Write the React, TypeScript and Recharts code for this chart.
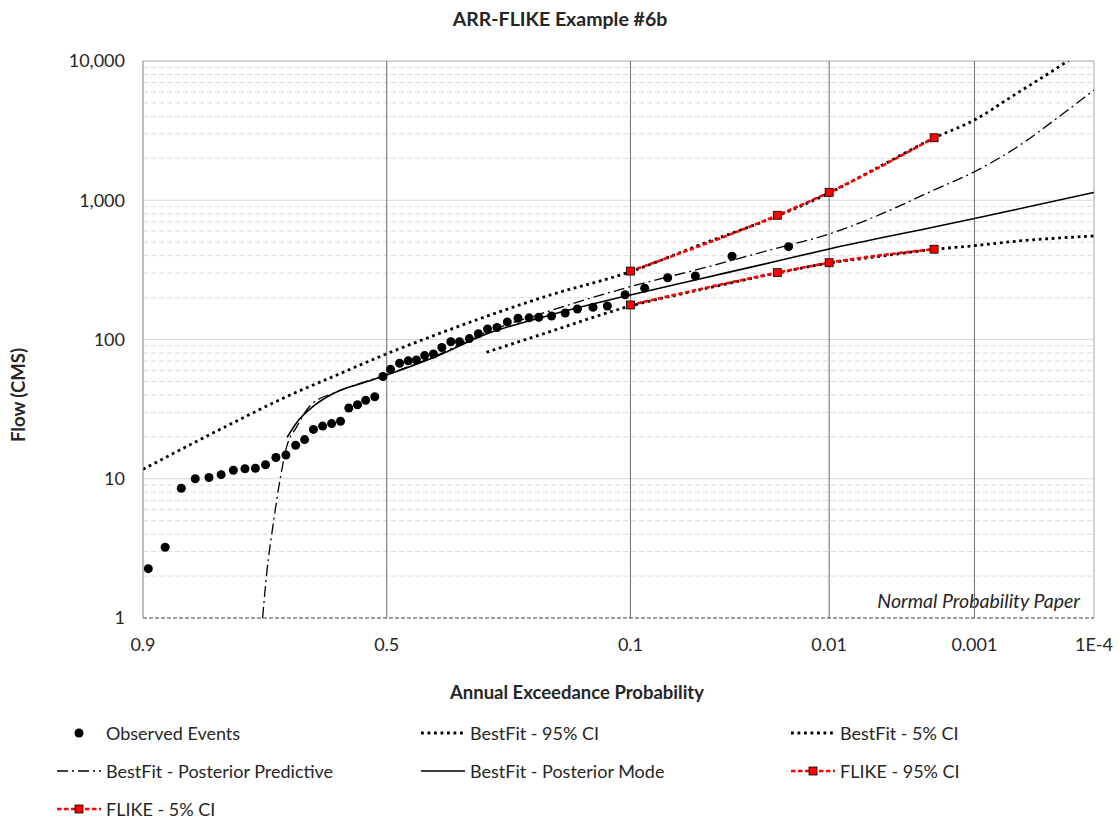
import {
  ComposedChart,
  Customized,
  Legend,
  Line,
  ReferenceLine,
  Scatter,
  XAxis,
  YAxis,
} from "recharts";

// Observed annual maxima: plotting-position AEP and peak flow (CMS)
const observedAep = [
  0.895, 0.878, 0.86, 0.843, 0.825, 0.808, 0.79, 0.772, 0.755, 0.738, 0.72, 0.702, 0.684,
  0.667, 0.65, 0.632, 0.614, 0.596, 0.579, 0.561, 0.544, 0.525, 0.508, 0.492, 0.473, 0.455,
  0.438, 0.421, 0.403, 0.386, 0.368, 0.351, 0.332, 0.315, 0.298, 0.281, 0.263, 0.245, 0.227,
  0.212, 0.193, 0.174, 0.158, 0.139, 0.123, 0.105, 0.0875, 0.0698, 0.0523, 0.0347, 0.0173,
];
const observedFlow = [
  2.26, 3.22, 8.54, 10.0, 10.2, 10.7, 11.5, 11.8, 11.9, 12.6, 14.2, 14.8, 17.4, 19.1, 22.6,
  23.9, 24.9, 25.9, 32.2, 34.0, 36.6, 38.8, 54.2, 61.1, 67.5, 70.3, 71.2, 76.6, 78.7, 87.6,
  96.3, 96.4, 101.5, 109.9, 119, 122, 133.6, 142, 143, 144.6, 147.5, 155, 165.6, 170.3, 174,
  209.4, 233.6, 277.8, 285.8, 395.8, 464,
];

// BestFit confidence limits
const bestFit95Aep = [
  0.9, 0.8, 0.7, 0.6, 0.5, 0.4, 0.3, 0.2, 0.1, 0.05, 0.02, 0.01, 0.005, 0.002, 0.001, 0.0005,
  0.0002, 0.0001,
];
const bestFit95Flow = [
  11.7, 23.9, 39, 56.3, 79, 107.5, 146.7, 205, 307, 477, 771, 1127, 1700, 2800, 3770, 5600, 9200,
  13500,
];
const bestFit5Aep = [0.3, 0.2, 0.1, 0.05, 0.02, 0.01, 0.005, 0.002, 0.001, 0.0005, 0.0002, 0.0001];
const bestFit5Flow = [81, 112, 174, 227, 300, 354, 393, 444, 472, 505, 536, 554];

// BestFit posterior predictive and posterior mode quantiles
const predictiveAep = [
  0.743, 0.736, 0.7245, 0.7127, 0.7006, 0.682, 0.657, 0.6, 0.5, 0.4, 0.3, 0.2, 0.1, 0.05, 0.02,
  0.01, 0.005, 0.002, 0.001, 0.0005, 0.0002, 0.0001,
];
const predictiveFlow = [
  1.0, 2.09, 4.79, 9.8, 17.0, 23.6, 33.3, 42.5, 56, 76, 113, 158, 240, 321, 454, 572, 771, 1185,
  1603, 2296, 4030, 6190,
];
const modeAep = [
  0.7, 0.68, 0.65, 0.6, 0.55, 0.5, 0.4, 0.3, 0.2, 0.1, 0.05, 0.02, 0.01, 0.002, 0.001, 0.0005,
  0.0001,
];
const modeFlow = [
  19.8, 25.9, 33.2, 42.7, 48.7, 55.6, 74.9, 109.5, 147.5, 209, 272, 366, 447, 643, 740, 847, 1137,
];

// FLIKE confidence limits
const flikeAep = [0.1, 0.02, 0.01, 0.002];
const flike95Flow = [310, 780, 1140, 2810];
const flike5Flow = [177, 302, 356, 445];

// Axis ticks
const aepTicks = [0.9, 0.5, 0.1, 0.01, 0.001, 0.0001];
const aepTickLabels = ["0.9", "0.5", "0.1", "0.01", "0.001", "1E-4"];
const aepGridLines = [0.5, 0.1, 0.01, 0.001];
const flowTicks = [1, 10, 100, 1000, 10000];

const FONT = "Lato, 'Open Sans', sans-serif";

// Inverse standard normal CDF (Acklam)
function normInv(p: number): number {
  const a = [-39.69683028665376, 220.9460984245205, -275.9285104469687, 138.357751867269, -30.66479806614716, 2.506628277459239];
  const b = [-54.47609879822406, 161.5858368580409, -155.6989798598866, 66.80131188771972, -13.28068155288572];
  const c = [-0.007784894002430293, -0.3223964580411365, -2.400758277161838, -2.549671010322563, 4.374664141464968, 2.938163982698783];
  const d = [0.007784695709041462, 0.3224671290700398, 2.445134137142996, 3.754408661907416];
  const pLow = 0.02425;
  if (p < pLow) {
    const q = Math.sqrt(-2 * Math.log(p));
    return (((((c[0] * q + c[1]) * q + c[2]) * q + c[3]) * q + c[4]) * q + c[5]) /
      ((((d[0] * q + d[1]) * q + d[2]) * q + d[3]) * q + 1);
  }
  if (p > 1 - pLow) {
    const q = Math.sqrt(-2 * Math.log(1 - p));
    return -(((((c[0] * q + c[1]) * q + c[2]) * q + c[3]) * q + c[4]) * q + c[5]) /
      ((((d[0] * q + d[1]) * q + d[2]) * q + d[3]) * q + 1);
  }
  const q = p - 0.5;
  const r = q * q;
  return ((((((a[0] * r + a[1]) * r + a[2]) * r + a[3]) * r + a[4]) * r + a[5]) * q) /
    (((((b[0] * r + b[1]) * r + b[2]) * r + b[3]) * r + b[4]) * r + 1);
}

// normal probability paper: x position is the standard normal variate of (1 - AEP)
const aepToZ = (aep: number) => normInv(1 - aep);

const toRows = (aep: number[], flow: number[]) =>
  aep.map((p, i) => ({ z: aepToZ(p), flow: flow[i] }));

const observedRows = toRows(observedAep, observedFlow);
const bestFit95Rows = toRows(bestFit95Aep, bestFit95Flow);
const bestFit5Rows = toRows(bestFit5Aep, bestFit5Flow);
const predictiveRows = toRows(predictiveAep, predictiveFlow);
const modeRows = toRows(modeAep, modeFlow);
const flike95Rows = toRows(flikeAep, flike95Flow);
const flike5Rows = toRows(flikeAep, flike5Flow);

const zMin = aepToZ(0.9);
const zMax = aepToZ(0.0001);

const minorFlows: number[] = [];
for (let k = 0; k < 4; k++) {
  for (let m = 2; m <= 9; m++) minorFlows.push(m * 10 ** k);
}

const DOTTED = { stroke: "#000", strokeWidth: 2.8, strokeDasharray: "2.8 3.7" };
const DASH_DOT = { stroke: "#000", strokeWidth: 1.3, strokeDasharray: "11 4 2 4" };
const SOLID = { stroke: "#000", strokeWidth: 1.6 };
const RED_DASH = { stroke: "#ff0000", strokeWidth: 2.6, strokeDasharray: "4.5 2.5" };

type LegendKind = "dot" | "dotted" | "dashdot" | "solid" | "flike";

const legendItems: { name: string; kind: LegendKind }[] = [
  { name: "Observed Events", kind: "dot" },
  { name: "BestFit - 95% CI", kind: "dotted" },
  { name: "BestFit - 5% CI", kind: "dotted" },
  { name: "BestFit - Posterior Predictive", kind: "dashdot" },
  { name: "BestFit - Posterior Mode", kind: "solid" },
  { name: "FLIKE - 95% CI", kind: "flike" },
  { name: "FLIKE - 5% CI", kind: "flike" },
];
const legendColumns = [57, 421, 791];
const legendRowsY = [25, 63, 101];

function LegendSymbol({ kind }: { kind: LegendKind }) {
  const lineStyle =
    kind === "dotted" ? DOTTED : kind === "dashdot" ? DASH_DOT : kind === "solid" ? SOLID : RED_DASH;
  return (
    <svg width={44} height={14} style={{ display: "block" }}>
      {kind === "dot" ? (
        <circle cx={22} cy={7} r={4.5} fill="#000" />
      ) : (
        <line x1={0} y1={7} x2={44} y2={7} {...lineStyle} />
      )}
      {kind === "flike" && (
        <rect x={18} y={3} width={8} height={8} fill="#ff0000" stroke="#000" strokeWidth={0.8} />
      )}
    </svg>
  );
}

function ChartLegend() {
  return (
    <div style={{ position: "relative", width: 1119, height: 115, fontFamily: FONT }}>
      {legendItems.map((item, i) => (
        <div
          key={item.name}
          style={{
            position: "absolute",
            left: legendColumns[i % 3],
            top: legendRowsY[Math.floor(i / 3)] - 11,
            height: 22,
            display: "flex",
            alignItems: "center",
            fontSize: 18,
            color: "#262626",
            whiteSpace: "nowrap",
          }}
        >
          <LegendSymbol kind={item.kind} />
          <span style={{ marginLeft: 5 }}>{item.name}</span>
        </div>
      ))}
    </div>
  );
}

function ChartText() {
  return (
    <g fontFamily={FONT} fill="#262626">
      <text x={560} y={18} textAnchor="middle" dominantBaseline="central" fontSize={19.5} fontWeight={700}>
        ARR-FLIKE Example #6b
      </text>
      <text
        x={18}
        y={395}
        transform="rotate(-90, 18, 395)"
        textAnchor="middle"
        dominantBaseline="central"
        fontSize={18.5}
        fontWeight={700}
      >
        Flow (CMS)
      </text>
      <text x={577} y={692} textAnchor="middle" dominantBaseline="central" fontSize={18.5} fontWeight={700}>
        Annual Exceedance Probability
      </text>
      <text x={1080} y={600} textAnchor="end" dominantBaseline="central" fontSize={19.5} fontStyle="italic">
        Normal Probability Paper
      </text>
    </g>
  );
}

function FlikeMarker(props: any) {
  const { cx, cy, index } = props;
  if (cx == null || cy == null) return <g key={index} />;
  return (
    <rect
      key={index}
      x={cx - 4}
      y={cy - 4}
      width={8}
      height={8}
      fill="#ff0000"
      stroke="#000"
      strokeWidth={0.8}
    />
  );
}

export default function App() {
  return (
    <div
      style={{
        position: "absolute",
        left: 0,
        top: 0,
        width: 1119,
        height: 823,
        overflow: "hidden",
        background: "#fff",
      }}
    >
      <ComposedChart width={1119} height={823} margin={{ top: 61, right: 25, bottom: 0, left: 0 }}>
        <XAxis
          type="number"
          dataKey="z"
          domain={[zMin, zMax]}
          allowDataOverflow
          ticks={aepTicks.map(aepToZ)}
          tickFormatter={(_v: number, i: number) => aepTickLabels[i]}
          height={90}
          tickLine={false}
          tickSize={0}
          tickMargin={20}
          axisLine={{ stroke: "#404040", strokeDasharray: "4 2" }}
          tick={{ fill: "#262626", fontSize: 18, fontFamily: FONT }}
        />
        <YAxis
          type="number"
          scale="log"
          domain={[1, 10000]}
          allowDataOverflow
          ticks={flowTicks}
          tickFormatter={(v: number) => v.toLocaleString("en-US")}
          width={143}
          tickLine={false}
          tickSize={0}
          tickMargin={18}
          axisLine={{ stroke: "#808080" }}
          tick={{ fill: "#262626", fontSize: 18, fontFamily: FONT }}
        />
        {minorFlows.map((v) => (
          <ReferenceLine
            key={`minor-${v}`}
            y={v}
            stroke="#d9d9d9"
            strokeDasharray="5 3"
            ifOverflow="visible"
          />
        ))}
        {[10, 100, 1000].map((v) => (
          <ReferenceLine key={`major-${v}`} y={v} stroke="#d9d9d9" strokeWidth={1.2} />
        ))}
        <ReferenceLine y={10000} stroke="#a6a6a6" />
        {aepGridLines.map((p) => (
          <ReferenceLine key={`v-${p}`} x={aepToZ(p)} stroke="#6b6b6b" />
        ))}
        <ReferenceLine x={zMax} stroke="#a6a6a6" />

        <Scatter
          name="Observed Events"
          data={observedRows}
          dataKey="flow"
          isAnimationActive={false}
          shape={(p: any) => <circle cx={p.cx} cy={p.cy} r={4.5} fill="#000" />}
        />
        <Line
          name="BestFit - 95% CI"
          data={bestFit95Rows}
          dataKey="flow"
          type="monotone"
          dot={false}
          {...DOTTED}
          isAnimationActive={false}
        />
        <Line
          name="BestFit - 5% CI"
          data={bestFit5Rows}
          dataKey="flow"
          type="monotone"
          dot={false}
          {...DOTTED}
          isAnimationActive={false}
        />
        <Line
          name="BestFit - Posterior Predictive"
          data={predictiveRows}
          dataKey="flow"
          type="monotone"
          dot={false}
          {...DASH_DOT}
          isAnimationActive={false}
        />
        <Line
          name="BestFit - Posterior Mode"
          data={modeRows}
          dataKey="flow"
          type="monotone"
          dot={false}
          {...SOLID}
          isAnimationActive={false}
        />
        <Line
          name="FLIKE - 95% CI"
          data={flike95Rows}
          dataKey="flow"
          type="monotone"
          dot={FlikeMarker}
          {...RED_DASH}
          isAnimationActive={false}
        />
        <Line
          name="FLIKE - 5% CI"
          data={flike5Rows}
          dataKey="flow"
          type="monotone"
          dot={FlikeMarker}
          {...RED_DASH}
          isAnimationActive={false}
        />
        <Legend
          content={() => <ChartLegend />}
          wrapperStyle={{ left: 0, top: 708, bottom: "auto", width: 1119, height: 115 }}
        />
        <Customized component={ChartText} />
      </ComposedChart>
    </div>
  );
}
